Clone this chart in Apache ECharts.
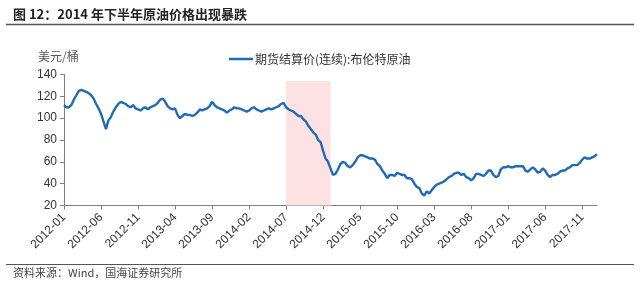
<!DOCTYPE html>
<html>
<head>
<meta charset="utf-8">
<script src="https://cdn.jsdelivr.net/npm/echarts@6/dist/echarts.min.js"></script>
<style>html,body{margin:0;padding:0;background:#fff}#c{width:640px;height:284px}</style>
</head>
<body>
<div id="c"></div>
<script>
// Brent settlement price, sampled on the 1st, 11th and 21st of each month (USD/bbl)
var y2012 = [112,110,110, 112,117,121, 125,126,125, 124,123,121, 118,113,109, 104,97,90,
             98,101,106, 110,113,115, 114,113,111, 110,112,109, 108,107,109, 110,108,110];
var y2013 = [111,112,114, 117,118,115, 111,109,108, 109,103,100, 102,104,103, 103,102,103,
             105,108,107, 108,109,111, 115,112,110, 109,108,107, 105,107,108, 110,109,109];
var y2014 = [108,107,106, 107,109,110, 108,107,106, 107,108,109, 108,109,110, 111,113,114,
             110,108,107, 106,104,102, 102,99,97, 93,90,87, 85,80,78, 70,63,60];
var y2015 = [54,48,49, 53,58,60, 59,56,55, 57,60,64, 66,66,65, 64,63,63,
             62,58,56, 52,49,45, 48,48,47, 50,49,48, 48,45,45, 44,40,37];
var y2016 = [36,31,29, 33,31,34, 37,39,40, 41,42,44, 46,47,49, 50,50,48,
             49,46,45, 43,45,49, 49,48,47, 49,52,52, 48,46,47, 53,55,55];
var y2017 = [56,55,55, 56,56,56, 56,52,51, 53,55,53, 50,51,54, 52,48,46,
             48,48,49, 51,52,52, 54,55,57, 57,57,59, 62,64,63, 63,64,65];
var lastPoint = {date: '2018-01-01', value: 67};
var years = [2012, 2013, 2014, 2015, 2016, 2017];
var days = ['01', '11', '21'];
var seriesName = '期货结算价(连续):布伦特原油';
var shadeStart = '2014-07-01', shadeEnd = '2015-01-01', shadeTop = 134;

var yearly = [y2012, y2013, y2014, y2015, y2016, y2017];
var categories = [], values = [];
years.forEach(function (yr, yi) {
  for (var m = 0; m < 12; m++) {
    for (var d = 0; d < 3; d++) {
      categories.push(yr + '-' + (m < 9 ? '0' : '') + (m + 1) + '-' + days[d]);
      values.push(yearly[yi][m * 3 + d]);
    }
  }
});
categories.push(lastPoint.date);
values.push(lastPoint.value);

var FONT = '"Liberation Sans", "Noto Sans CJK SC", sans-serif';
var chart = echarts.init(document.getElementById('c'), null, {renderer: 'canvas'});
chart.setOption({
  animation: false,
  backgroundColor: '#fff',
  textStyle: {fontFamily: FONT},
  grid: {left: 64, right: 43, top: 74.5, bottom: 78.5, containLabel: false},
  legend: {
    left: 224, top: 48, icon: 'rect', itemWidth: 24, itemHeight: 2.5, itemGap: 4,
    textStyle: {fontSize: 12, color: '#333', fontFamily: '"Noto Sans CJK SC", sans-serif', padding: [0,0,0,-3]},
    data: [seriesName]
  },
  xAxis: {
    type: 'category', boundaryGap: false, data: categories,
    axisLine: {lineStyle: {color: '#808080', width: 1}},
    axisTick: {interval: 14, length: 4, lineStyle: {color: '#808080'}},
    axisLabel: {interval: 14, rotate: 45, fontSize: 12, color: '#333', margin: 10,
      formatter: function (v) { return v.slice(0, 7); }},
    splitLine: {show: false}
  },
  yAxis: {
    type: 'value', min: 20, max: 140, interval: 20,
    axisLine: {show: true, lineStyle: {color: '#808080', width: 1}},
    axisTick: {show: true, length: 4, lineStyle: {color: '#808080'}},
    axisLabel: {fontSize: 12, color: '#333', margin: 7},
    splitLine: {show: false}
  },
  series: [{
    name: seriesName, type: 'line', data: values, showSymbol: false, symbol: 'none',
    lineStyle: {color: '#1f6bb5', width: 2.4}, itemStyle: {color: '#1f6bb5'},
    markArea: {
      silent: true, itemStyle: {color: '#fde1e3'},
      data: [[{xAxis: shadeStart, yAxis: 20}, {xAxis: shadeEnd, yAxis: shadeTop}]]
    }
  }],
  graphic: [
    {type: 'text', left: 13, top: 8, style: {text: '图 12：2014 年下半年原油价格出现暴跌', fontSize: 13, fontWeight: 'bold', fill: '#222', fontFamily: '"Noto Sans CJK SC", sans-serif'}},
    {type: 'line', shape: {x1: 6, y1: 24.5, x2: 634, y2: 24.5}, style: {stroke: '#555', lineWidth: 1.5}},
    {type: 'text', left: 38, top: 50, style: {text: '美元/桶', fontSize: 12, fill: '#595959', fontFamily: '"Noto Sans CJK SC", sans-serif'}},
    {type: 'line', shape: {x1: 6, y1: 264.5, x2: 634, y2: 264.5}, style: {stroke: '#555', lineWidth: 1}},
    {type: 'text', left: 13, top: 267, style: {text: '资料来源：Wind，国海证券研究所', fontSize: 11, fill: '#444', fontFamily: '"Noto Sans CJK SC", sans-serif'}}
  ]
});
</script>
</body>
</html>
